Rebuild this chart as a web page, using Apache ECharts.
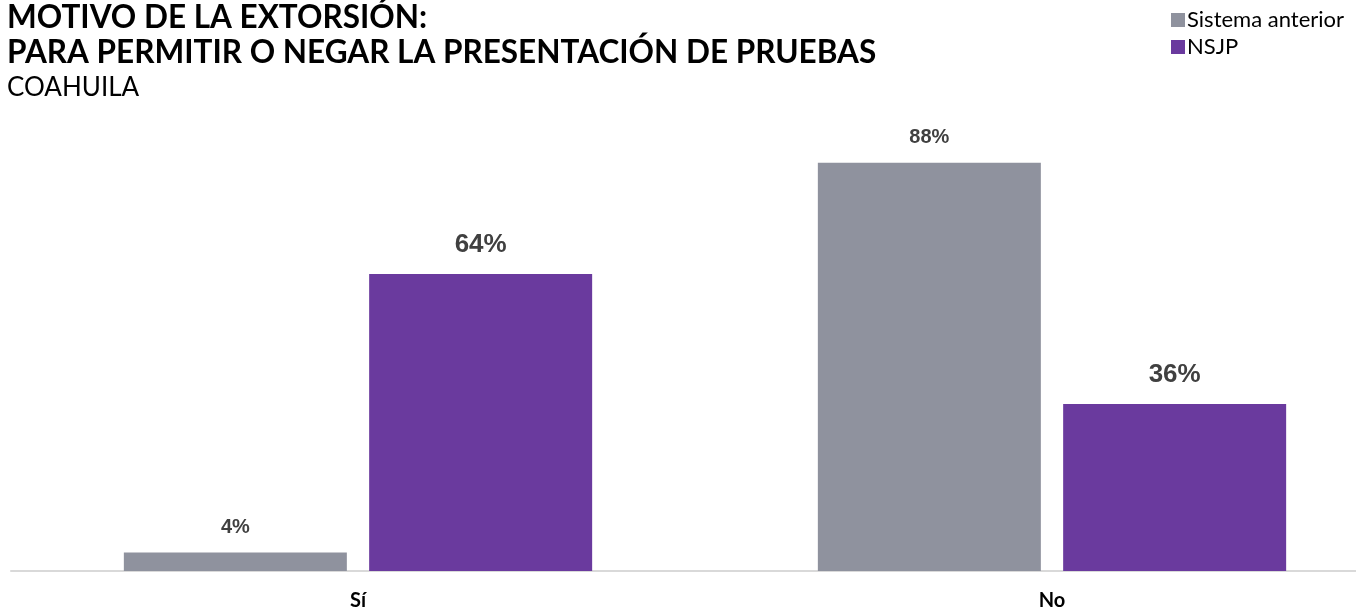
<!DOCTYPE html>
<html><head><meta charset="utf-8">
<script src="https://cdn.jsdelivr.net/npm/echarts@6/dist/echarts.min.js"></script>
<style>html,body{margin:0;padding:0;background:#fff}#c{width:1356px;height:610px}</style>
</head><body><div id="c"></div>
<script>
const categories = ['Sí', 'No'];
const seriesNames = ['Sistema anterior', 'NSJP'];
const anterior = [4, 88];
const nsjp = [64, 36];
const titleLines = ['MOTIVO DE LA EXTORSIÓN:', 'PARA PERMITIR O NEGAR LA PRESENTACIÓN DE PRUEBAS'];
const subtitle = 'COAHUILA';

const chart = echarts.init(document.getElementById('c'));
chart.setOption({
  animation: false,
  title: {
    text: titleLines.join('\n'),
    subtext: subtitle,
    left: 7, top: 0, padding: 0,
    itemGap: 3,
    textStyle: {fontFamily: 'Lato', fontWeight: 'bold', fontSize: 31.5, color: '#000', lineHeight: 35},
    subtextStyle: {fontFamily: 'Lato', fontSize: 26, color: '#000', lineHeight: 30}
  },
  legend: {
    orient: 'vertical', left: 1171, top: 9, padding: 0,
    itemWidth: 14, itemHeight: 14, itemGap: 5,
    icon: 'rect',
    textStyle: {fontFamily: 'Lato', fontSize: 22, color: '#000', padding: [0,0,0,-3]},
    data: seriesNames
  },
  grid: {left: 11, width: 1388, top: 107, bottom: 39, containLabel: false, outerBoundsMode: 'none'},
  xAxis: {
    type: 'category', data: categories,
    axisLine: {lineStyle: {color: '#d9d9d9', width: 2}},
    axisTick: {show: false},
    axisLabel: {fontFamily: 'Lato', fontWeight: 'bold', fontSize: 20, color: '#000', margin: 20}
  },
  yAxis: {type: 'value', min: 0, max: 100, show: false, splitLine: {show: false}},
  series: [
    {name: seriesNames[0], type: 'bar', data: anterior, barWidth: 223, barGap: '10%',
     itemStyle: {color: '#8f929e'},
     label: {show: true, position: 'top', distance: 15, formatter: '{c}%', fontFamily: 'Liberation Sans', fontWeight: 'bold', fontSize: 20, color: '#404040'}},
    {name: seriesNames[1], type: 'bar', data: nsjp, barWidth: 223,
     itemStyle: {color: '#6a3a9e'},
     label: {show: true, position: 'top', distance: 16, formatter: '{c}%', fontFamily: 'Liberation Sans', fontWeight: 'bold', fontSize: 26, color: '#404040'}}
  ]
});
</script></body></html>
